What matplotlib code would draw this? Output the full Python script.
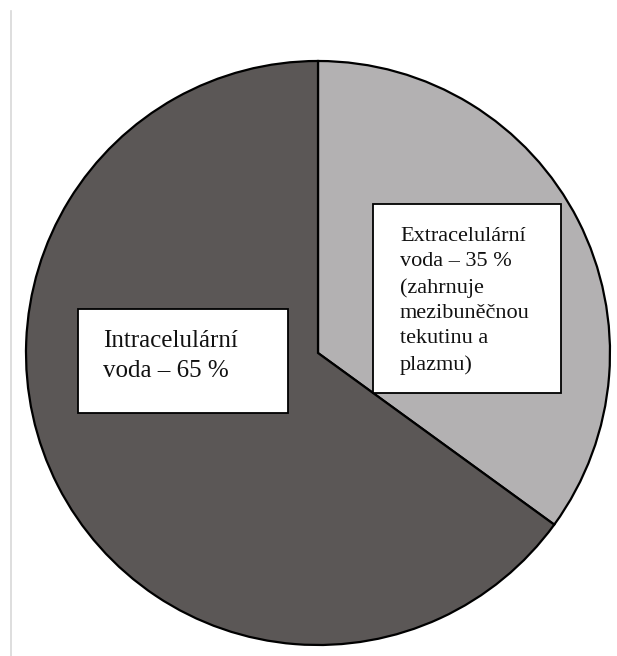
"""Pie chart: distribution of body water (intra- vs extracellular)."""

import matplotlib
matplotlib.use("Agg")
import matplotlib.pyplot as plt
from matplotlib.lines import Line2D
from matplotlib.patches import Rectangle

# data
shares = [35, 65]
share_names = ["Extracelulární voda", "Intracelulární voda"]
slice_colors = ["#b3b1b2", "#5b5756"]
box_texts = [
    "Extracelulární\nvoda – 35 %\n(zahrnuje\nmezibuněčnou\ntekutinu a\nplazmu)",
    "Intracelulární\nvoda – 65 %",
]

W, H = 617, 656
fig = plt.figure(figsize=(W / 100, H / 100), dpi=100)
ax = fig.add_axes([0, 0, 1, 1])

ax.pie(
    shares,
    colors=slice_colors,
    startangle=90,
    counterclock=False,
    center=(318, H - 353),
    radius=292,
    wedgeprops={"edgecolor": "black", "linewidth": 1.6},
    frame=True,
)
ax.set_xlim(0, W)
ax.set_ylim(0, H)
ax.set_axis_off()

# label boxes: (left, top, right, bottom) in pixels, text origin, font size, line spacing
boxes = [
    ((373, 204, 561, 393), (400, 227), 16.0, 1.45),
    ((78, 309, 288, 413), (103, 330), 18.0, 1.45),
]

for text, ((x0, y0, x1, y1), (tx, ty), fs, ls) in zip(box_texts, boxes):
    ax.add_patch(Rectangle((x0, H - y1), x1 - x0, y1 - y0,
                           facecolor="white", edgecolor="black", linewidth=1.3, zorder=3))
    ax.text(tx, H - ty, text, family="Liberation Serif", fontsize=fs,
            linespacing=ls, ha="left", va="top", color="#111111", zorder=4)

# faint scan border on the left
fig.add_artist(Line2D([11 / W, 11 / W], [0, 1 - 11 / H], color="#d8d8d8", linewidth=1.2))

fig.savefig("out.png", dpi=100)
